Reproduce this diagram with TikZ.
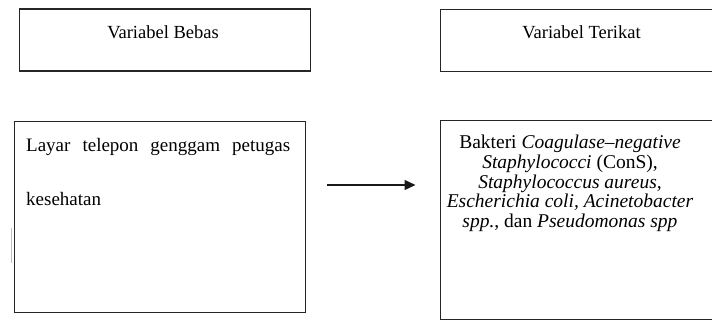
\documentclass[tikz,border=0pt]{standalone}
\usepackage{fontspec}
\setmainfont{Liberation Serif}
\usetikzlibrary{arrows.meta}
\begin{document}
\begin{tikzpicture}[x=1pt,y=-1pt,
  box/.style={draw=black!85,line width=1.2pt,rectangle,inner sep=0pt,anchor=north west},
  lbl/.style={inner sep=0pt,anchor=base,font=\fontsize{18.5}{18.5}\selectfont},
  txt/.style={inner sep=0pt,font=\fontsize{19}{19}\selectfont}]
\clip (0,0) rectangle (712,323);
\fill[white] (0,0) rectangle (712,323);
% boxes
\node[box,minimum width=291pt,minimum height=62pt] (vb) at (18.5,8.5) {};
\node[box,minimum width=300pt,minimum height=62pt] (vt) at (439.5,9) {};
\node[box,minimum width=291pt,minimum height=191pt] (b3) at (13.5,121) {};
\node[box,minimum width=300pt,minimum height=199pt] (b4) at (439.5,120) {};
% labels
\node[lbl] (lvb) at (163,39) {Variabel Bebas};
\node[lbl] (lvt) at (581.5,39) {Variabel Terikat};
% left text
\node[txt,anchor=base west] (t1) at (26,152) {\makebox[264pt][s]{Layar telepon genggam petugas}};
\node[txt,anchor=base west] (t2) at (26,206) {kesehatan};
% right text
\node[inner sep=0pt,anchor=base,align=center,font=\fontsize{19.5}{19.5}\selectfont] (t4) at (570,227)
 {Bakteri \textit{Coagulase–negative}\\
  \textit{Staphylococci} (ConS),\\
  \textit{Staphylococcus aureus,}\\
  \textit{Escherichia coli, Acinetobacter}\\
  \textit{spp.}, dan \textit{Pseudomonas spp}};
% arrow
\coordinate (ay) at (0,185);
\draw[line width=1.1pt,black!90,-{Triangle[length=11pt,width=10pt]},shorten <=21pt,shorten >=24pt]
  (b3.east |- ay) -- (b4.west |- ay);
% stray mark
\coordinate (m1) at (11,228);
\coordinate (m2) at (11,263);
\draw[black!25,line width=0.9pt] (m1) -- (m2);
\end{tikzpicture}
\end{document}
